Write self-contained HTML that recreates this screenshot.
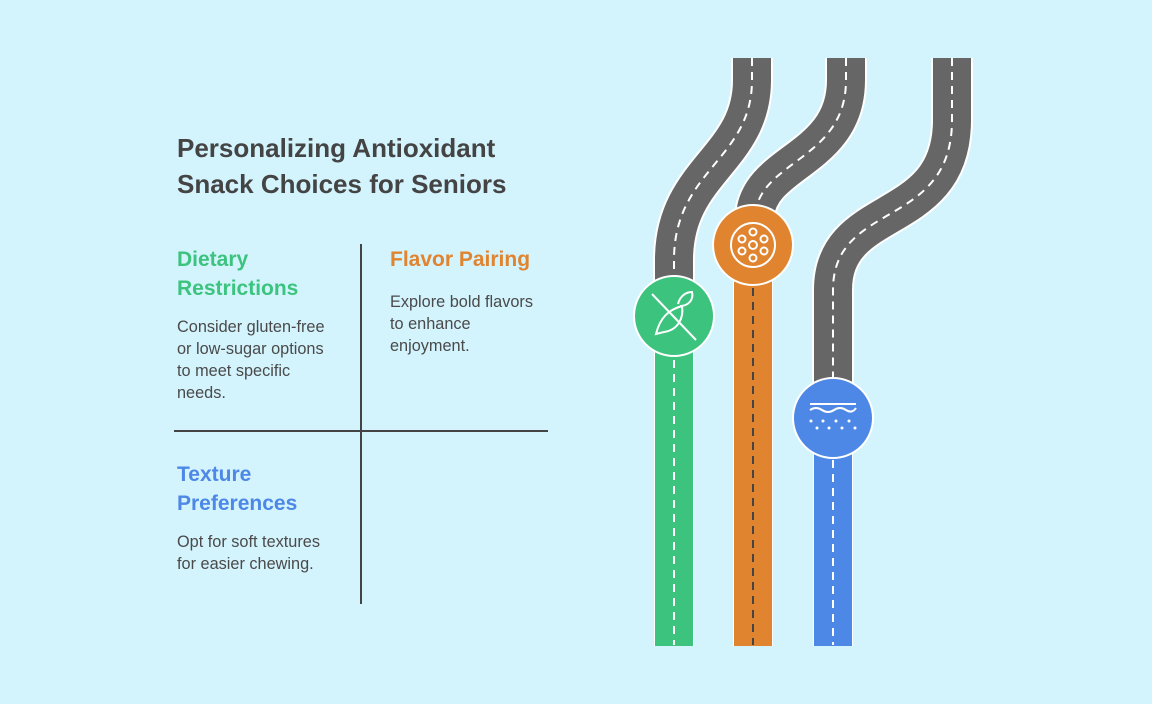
<!DOCTYPE html>
<html><head><meta charset="utf-8"><style>
body{margin:0;width:1152px;height:704px;background:#d3f3fd;overflow:hidden;position:relative;font-family:"Liberation Sans",sans-serif}
.t{position:absolute;margin:0}
h1{position:absolute;left:177px;top:130px;margin:0;font-size:26px;line-height:36px;color:#444;font-weight:bold}
.h{font-size:21px;line-height:29px;font-weight:bold}
.p{font-size:16.3px;line-height:22px;color:#4a4a4a}
</style></head><body>
<h1>Personalizing Antioxidant<br>Snack Choices for Seniors</h1>
<div class="t h" style="left:177px;top:245px;color:#3cc47f">Dietary<br>Restrictions</div>
<div class="t p" style="left:177px;top:316px">Consider gluten-free<br>or low-sugar options<br>to meet specific<br>needs.</div>
<div class="t h" style="left:390px;top:245px;color:#e0842f">Flavor Pairing</div>
<div class="t p" style="left:390px;top:291px">Explore bold flavors<br>to enhance<br>enjoyment.</div>
<div class="t h" style="left:177px;top:460px;color:#4d88e6">Texture<br>Preferences</div>
<div class="t p" style="left:177px;top:531px">Opt for soft textures<br>for easier chewing.</div>
<svg width="1152" height="704" style="position:absolute;left:0;top:0">
<line x1="361" y1="244" x2="361" y2="604" stroke="#444" stroke-width="2"/>
<line x1="174" y1="431" x2="548" y2="431" stroke="#444" stroke-width="2"/>
<g fill="none">
<path d="M752 58 L752 80 C752 160 674 170 674 260 L674 300" stroke="#fff" stroke-width="42"/>
<path d="M846 58 L846 80 C846 160 760 160 755 215" stroke="#fff" stroke-width="42"/>
<path d="M952 58 L952 120 C952 230 833 200 833 290 L833 400" stroke="#fff" stroke-width="42"/>
<path d="M752 58 L752 80 C752 160 674 170 674 260 L674 300" stroke="#666" stroke-width="38"/>
<path d="M846 58 L846 80 C846 160 760 160 755 215" stroke="#666" stroke-width="38"/>
<path d="M952 58 L952 120 C952 230 833 200 833 290 L833 400" stroke="#666" stroke-width="38"/>
<path d="M752 58 L752 80 C752 160 674 170 674 260 L674 300" stroke="#fff" stroke-width="2" stroke-dasharray="8 6"/>
<path d="M846 58 L846 80 C846 160 760 160 755 215" stroke="#fff" stroke-width="2" stroke-dasharray="8 6"/>
<path d="M952 58 L952 120 C952 230 833 200 833 290 L833 400" stroke="#fff" stroke-width="2" stroke-dasharray="8 6"/>
</g>
<rect x="654" y="340" width="40" height="306" fill="#fff"/><rect x="655" y="340" width="38" height="306" fill="#3cc47f"/>
<line x1="674" y1="360" x2="674" y2="645" stroke="#fff" stroke-width="2" stroke-dasharray="8 6"/>
<rect x="733" y="270" width="40" height="376" fill="#fff"/><rect x="734" y="270" width="38" height="376" fill="#e0842f"/>
<line x1="753" y1="288" x2="753" y2="645" stroke="#444" stroke-width="2" stroke-dasharray="8 6"/>
<rect x="813" y="440" width="40" height="206" fill="#fff"/><rect x="814" y="440" width="38" height="206" fill="#4d88e6"/>
<line x1="833" y1="460" x2="833" y2="645" stroke="#fff" stroke-width="2" stroke-dasharray="8 6"/>
<circle cx="674" cy="316" r="40" fill="#3cc47f" stroke="#fff" stroke-width="2"/>
<g stroke="#fff" stroke-width="2" fill="none">
<line x1="652" y1="294" x2="696" y2="340"/>
<path d="M656 334 C660 318 668 310 682 306 C684 318 678 330 664 332 Z"/>
<path d="M678 304 C680 296 686 292 692 292 C694 300 688 306 680 306"/>
</g>
<circle cx="753" cy="245" r="40" fill="#e0842f" stroke="#fff" stroke-width="2"/>
<g stroke="#fff" stroke-width="2" fill="none">
<circle cx="753" cy="245" r="22"/><circle cx="753" cy="245" r="4"/>
<circle cx="753" cy="232" r="3.5"/><circle cx="753" cy="258" r="3.5"/><circle cx="742" cy="239" r="3.5"/><circle cx="764" cy="239" r="3.5"/><circle cx="742" cy="251" r="3.5"/><circle cx="764" cy="251" r="3.5"/>
</g>
<circle cx="833" cy="418" r="40" fill="#4d88e6" stroke="#fff" stroke-width="2"/>
<g stroke="#fff" stroke-width="2" fill="none">
<line x1="810" y1="404" x2="856" y2="404"/>
<path d="M810 410 Q816 406 822 410 T834 410 T846 410 T856 408"/>
</g>
<g fill="#fff"><circle cx="811" cy="421" r="1.5"/><circle cx="823" cy="421" r="1.5"/><circle cx="836" cy="421" r="1.5"/><circle cx="849" cy="421" r="1.5"/><circle cx="817" cy="428" r="1.5"/><circle cx="829" cy="428" r="1.5"/><circle cx="842" cy="428" r="1.5"/><circle cx="855" cy="428" r="1.5"/></g>
</svg>
</body></html>
